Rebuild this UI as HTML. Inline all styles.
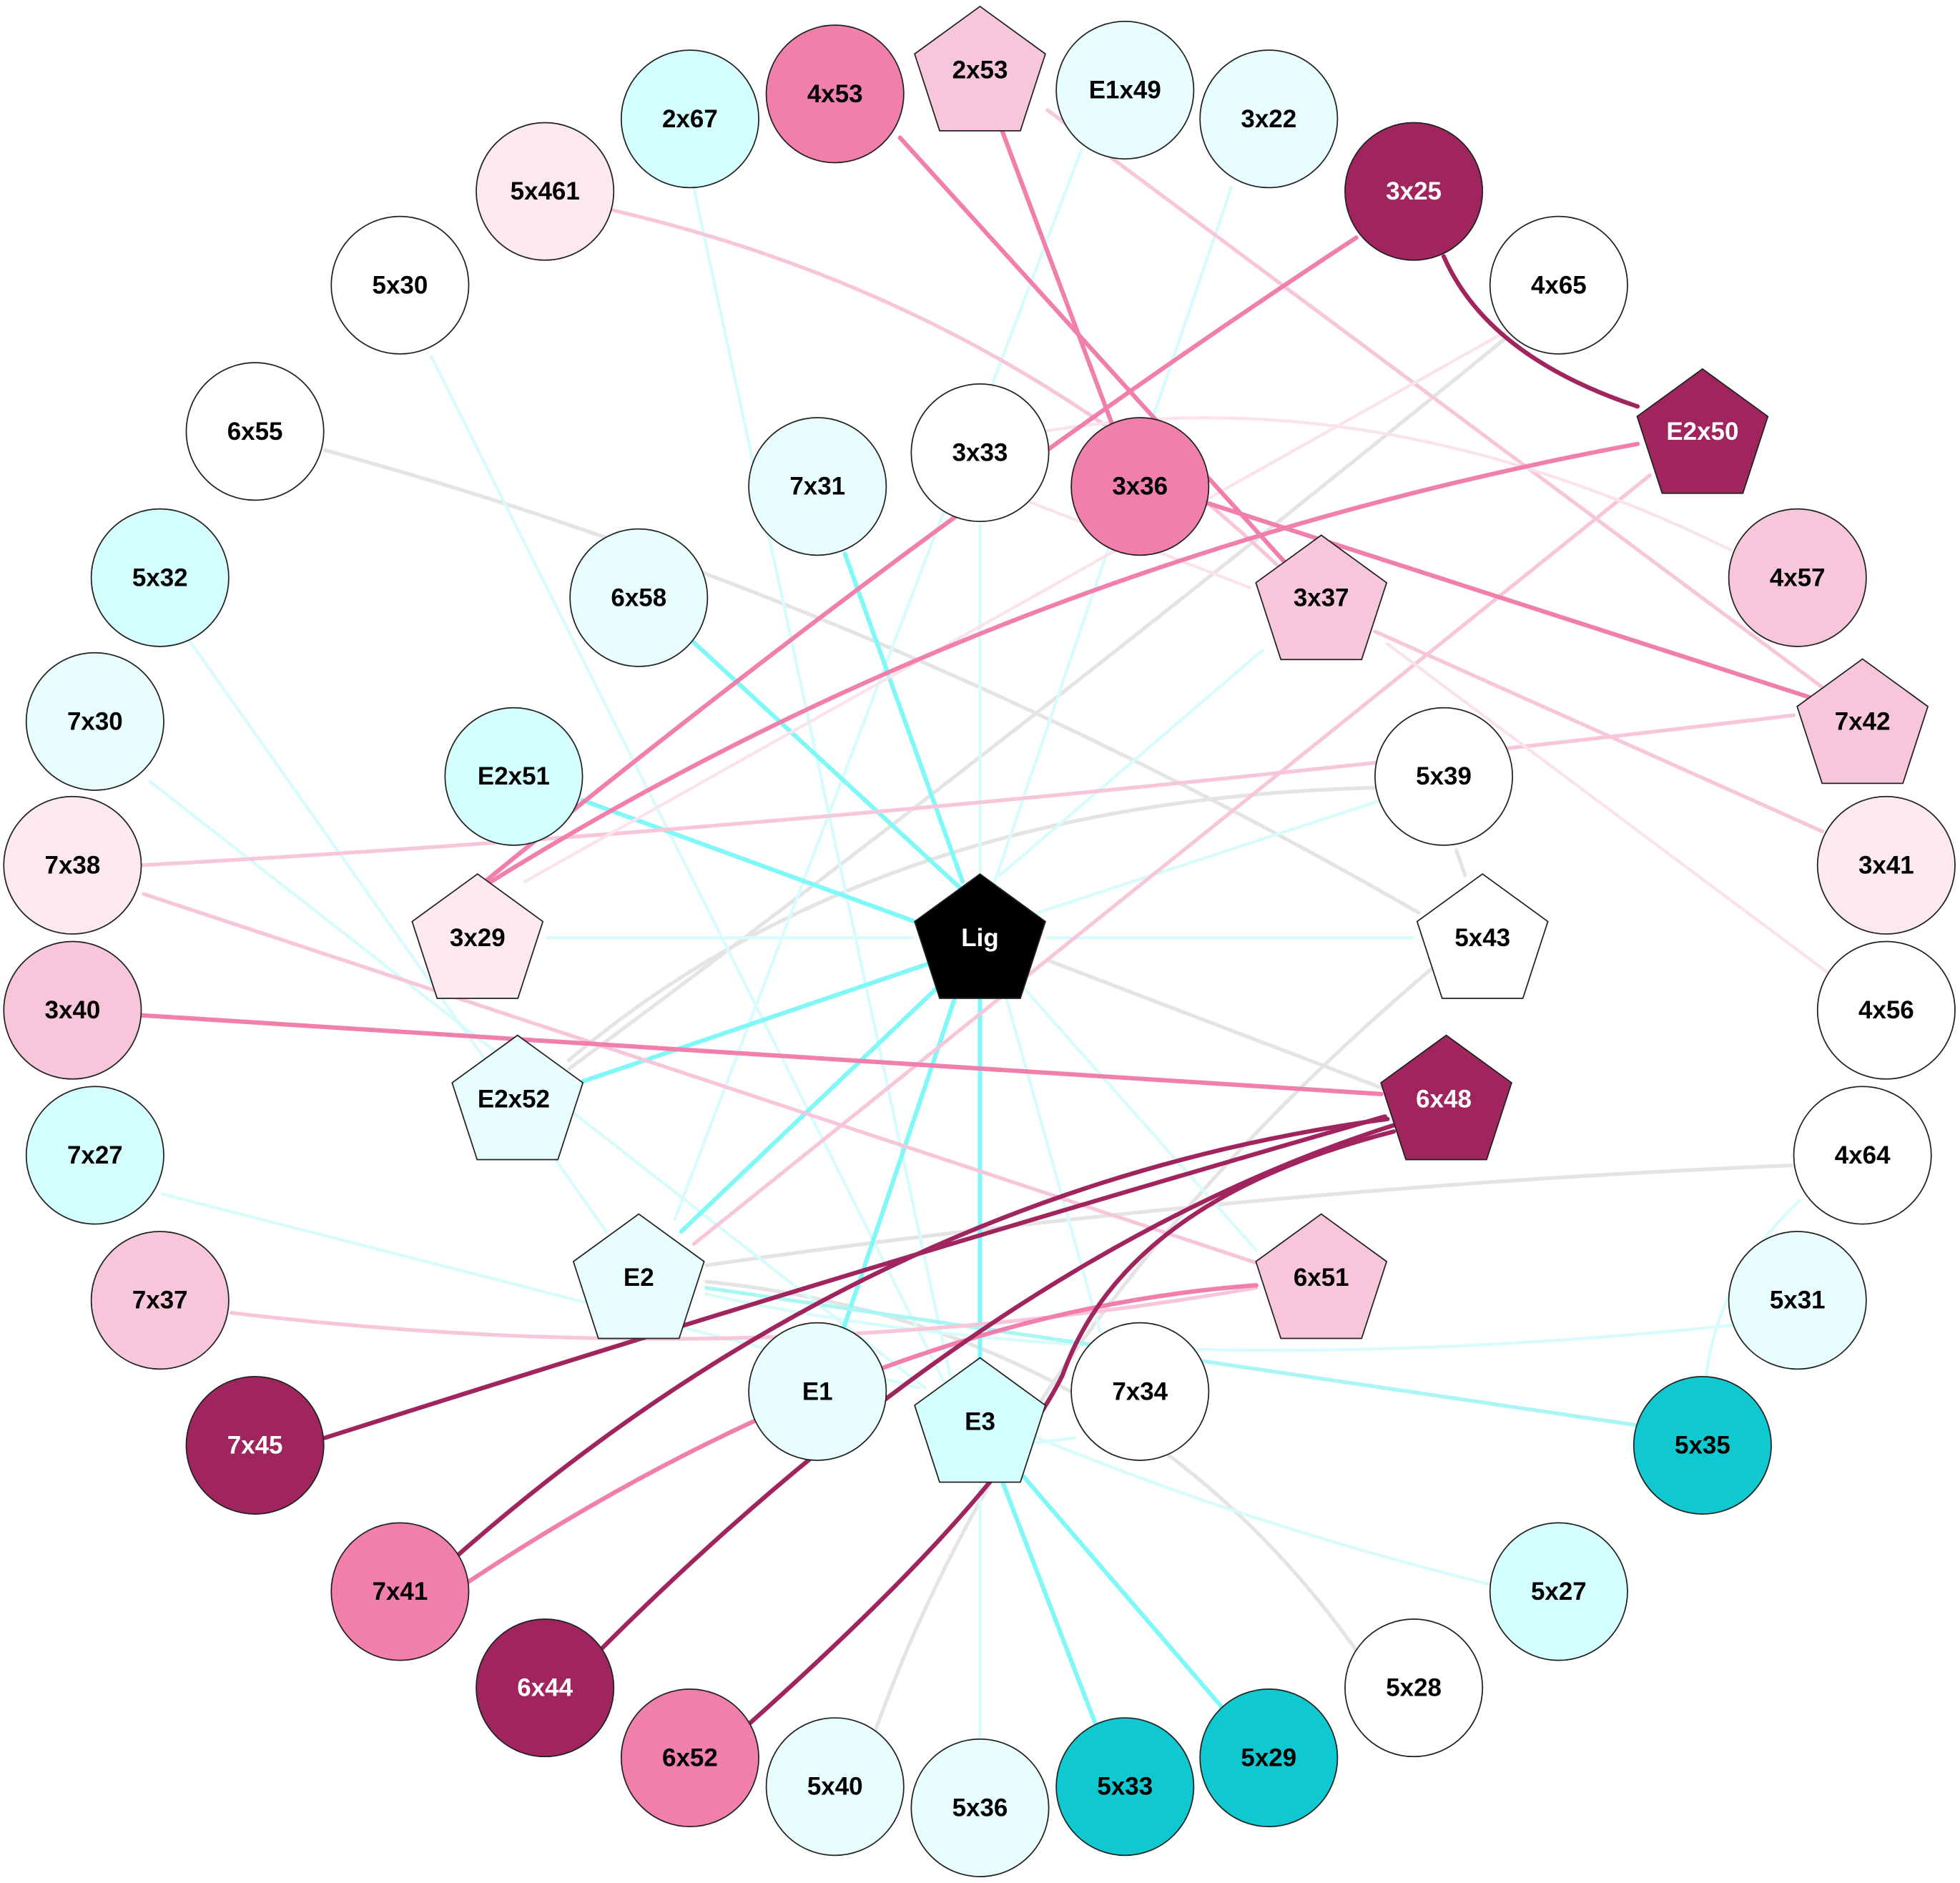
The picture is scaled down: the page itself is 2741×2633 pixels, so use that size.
<!DOCTYPE html>
<html><head><meta charset="utf-8"><style>html,body{margin:0;padding:0;background:#fff}svg{display:block}text{font-family:"Liberation Sans",Arial,sans-serif;font-weight:bold;font-size:20px;text-anchor:middle;dominant-baseline:central;stroke:none}</style></head><body>
<svg width="2741" height="2633" viewBox="0 0 1568 1506" xmlns="http://www.w3.org/2000/svg">
<g fill="none" stroke-linecap="round">
<g stroke="#e4e4e4" stroke-width="3">
<path d="M260,360 Q700,480 1135,730"/>
<line x1="838" y1="768" x2="1105" y2="870"/>
<path d="M455,855 Q800,600 1205,270"/>
<path d="M455,848 Q700,640 1100,630"/>
<path d="M1145,775 Q820,1050 700,1385"/>
<line x1="1165" y1="680" x2="1172" y2="700"/>
<path d="M565,1012 Q1000,950 1435,932"/>
<path d="M565,1025 Q900,1060 1085,1320"/>
</g>
<g stroke="#d8fbfb" stroke-width="2.5">
<line x1="555" y1="150" x2="760" y2="1100"/>
<line x1="345" y1="285" x2="755" y2="1105"/>
<line x1="120" y1="625" x2="740" y2="1110"/>
<line x1="150" y1="510" x2="485" y2="985"/>
<line x1="865" y1="120" x2="540" y2="975"/>
<line x1="985" y1="150" x2="675" y2="1060"/>
<line x1="784" y1="1190" x2="784" y2="1392"/>
<path d="M830,1150 Q1000,1220 1195,1268"/>
<line x1="820" y1="1155" x2="860" y2="1150"/>
<line x1="810" y1="780" x2="1005" y2="1000"/>
<line x1="800" y1="780" x2="880" y2="1065"/>
<line x1="800" y1="700" x2="1010" y2="520"/>
<line x1="784" y1="420" x2="784" y2="700"/>
<line x1="438" y1="750" x2="730" y2="750"/>
<line x1="838" y1="750" x2="1130" y2="750"/>
<line x1="830" y1="730" x2="1105" y2="640"/>
<path d="M565,1035 Q900,1110 1385,1060"/>
<path d="M1440,960 Q1375,1020 1365,1100"/>
<line x1="130" y1="955" x2="735" y2="1110"/>
</g>
<g stroke="#80f8f8" stroke-width="3.5">
<line x1="676" y1="443" x2="770" y2="705"/>
<line x1="551" y1="510" x2="768" y2="710"/>
<line x1="466" y1="640" x2="740" y2="740"/>
<line x1="466" y1="865" x2="745" y2="770"/>
<line x1="545" y1="985" x2="755" y2="785"/>
<line x1="675" y1="1062" x2="765" y2="795"/>
<line x1="784" y1="797" x2="784" y2="1090"/>
<line x1="818" y1="1180" x2="978" y2="1366"/>
<line x1="800" y1="1180" x2="878" y2="1383"/>
</g>
<g stroke="#a8f6f6" stroke-width="3">
<line x1="565" y1="1030" x2="1310" y2="1140"/>
</g>
<g stroke="#f7c6da" stroke-width="3">
<path d="M490,168 Q800,240 1025,455"/>
<line x1="838" y1="88" x2="1465" y2="555"/>
<path d="M113,692 Q700,660 1435,572"/>
<line x1="115" y1="715" x2="1005" y2="1010"/>
<path d="M185,1050 Q600,1100 1005,1030"/>
<line x1="555" y1="995" x2="1320" y2="380"/>
<line x1="1100" y1="505" x2="1458" y2="665"/>
</g>
<g stroke="#fbe3ec" stroke-width="2.5">
<path d="M835,345 Q1100,300 1385,440"/>
<line x1="1110" y1="515" x2="1465" y2="780"/>
<line x1="420" y1="705" x2="1205" y2="265"/>
<line x1="820" y1="400" x2="1000" y2="470"/>
</g>
<g stroke="#f07fab" stroke-width="3.5">
<line x1="720" y1="110" x2="1030" y2="452"/>
<line x1="800" y1="100" x2="890" y2="340"/>
<line x1="965" y1="402" x2="1455" y2="560"/>
<path d="M1085,190 Q750,410 388,705"/>
<path d="M1310,355 Q800,450 385,710"/>
<line x1="113" y1="812" x2="1105" y2="875"/>
<path d="M375,1265 Q700,1050 1005,1028"/>
</g>
<g stroke="#a0245e" stroke-width="3.5">
<path d="M1155,205 Q1190,285 1310,325"/>
<path d="M260,1150 Q700,1010 1108,893"/>
<path d="M365,1245 Q700,950 1110,895"/>
<path d="M480,1320 Q800,1000 1115,900"/>
<path d="M598,1380 Q800,1200 850,1100 Q900,960 1115,905"/>
</g>
</g>
<g stroke="#222" stroke-width="1">
<circle cx="552" cy="95" r="55" fill="#d4ffff"/><text x="552" y="95">2x67</text>
<circle cx="668" cy="75" r="55" fill="#f07fab"/><text x="668" y="75">4x53</text>
<circle cx="900" cy="72" r="55" fill="#e8fdfd"/><text x="900" y="72">E1x49</text>
<circle cx="1015" cy="95" r="55" fill="#e8fdfd"/><text x="1015" y="95">3x22</text>
<circle cx="1131" cy="153" r="55" fill="#a0245e"/><text x="1131" y="153" fill="#fff">3x25</text>
<circle cx="436" cy="153" r="55" fill="#fbe8f0"/><text x="436" y="153">5x461</text>
<circle cx="320" cy="228" r="55" fill="#fff"/><text x="320" y="228">5x30</text>
<circle cx="1247" cy="228" r="55" fill="#fff"/><text x="1247" y="228">4x65</text>
<circle cx="204" cy="345" r="55" fill="#fff"/><text x="204" y="345">6x55</text>
<circle cx="784" cy="362" r="55" fill="#fff"/><text x="784" y="362">3x33</text>
<circle cx="654" cy="389" r="55" fill="#e8fdfd"/><text x="654" y="389">7x31</text>
<circle cx="912" cy="389" r="55" fill="#f07fab"/><text x="912" y="389">3x36</text>
<circle cx="128" cy="462" r="55" fill="#d4ffff"/><text x="128" y="462">5x32</text>
<circle cx="511" cy="478" r="55" fill="#e8fdfd"/><text x="511" y="478">6x58</text>
<circle cx="1438" cy="462" r="55" fill="#f7c6da"/><text x="1438" y="462">4x57</text>
<circle cx="76" cy="577" r="55" fill="#e8fdfd"/><text x="76" y="577">7x30</text>
<circle cx="411" cy="621" r="55" fill="#d4ffff"/><text x="411" y="621">E2x51</text>
<circle cx="1155" cy="621" r="55" fill="#fff"/><text x="1155" y="621">5x39</text>
<circle cx="58" cy="692" r="55" fill="#fbe8f0"/><text x="58" y="692">7x38</text>
<circle cx="1509" cy="692" r="55" fill="#fbe8f0"/><text x="1509" y="692">3x41</text>
<circle cx="58" cy="808" r="55" fill="#f7c6da"/><text x="58" y="808">3x40</text>
<circle cx="1509" cy="808" r="55" fill="#fff"/><text x="1509" y="808">4x56</text>
<circle cx="76" cy="924" r="55" fill="#d4ffff"/><text x="76" y="924">7x27</text>
<circle cx="1490" cy="924" r="55" fill="#fff"/><text x="1490" y="924">4x64</text>
<circle cx="128" cy="1040" r="55" fill="#f7c6da"/><text x="128" y="1040">7x37</text>
<circle cx="1438" cy="1040" r="55" fill="#e8fdfd"/><text x="1438" y="1040">5x31</text>
<circle cx="654" cy="1113" r="55" fill="#e8fdfd"/><text x="654" y="1113">E1</text>
<circle cx="912" cy="1113" r="55" fill="#fff"/><text x="912" y="1113">7x34</text>
<circle cx="204" cy="1156" r="55" fill="#a0245e"/><text x="204" y="1156" fill="#fff">7x45</text>
<circle cx="1362" cy="1156" r="55" fill="#10c8d0"/><text x="1362" y="1156">5x35</text>
<circle cx="320" cy="1273" r="55" fill="#f07fab"/><text x="320" y="1273">7x41</text>
<circle cx="1247" cy="1273" r="55" fill="#d4ffff"/><text x="1247" y="1273">5x27</text>
<circle cx="436" cy="1350" r="55" fill="#a0245e"/><text x="436" y="1350" fill="#fff">6x44</text>
<circle cx="1131" cy="1350" r="55" fill="#fff"/><text x="1131" y="1350">5x28</text>
<circle cx="552" cy="1406" r="55" fill="#f07fab"/><text x="552" y="1406">6x52</text>
<circle cx="668" cy="1429" r="55" fill="#e8fdfd"/><text x="668" y="1429">5x40</text>
<circle cx="784" cy="1446" r="55" fill="#e8fdfd"/><text x="784" y="1446">5x36</text>
<circle cx="900" cy="1429" r="55" fill="#10c8d0"/><text x="900" y="1429">5x33</text>
<circle cx="1015" cy="1406" r="55" fill="#10c8d0"/><text x="1015" y="1406">5x29</text>
</g>
<g stroke="#222" stroke-width="1">
<g transform="translate(784,60)"><polygon points="0,-55 52.3,-17 32.3,44.5 -32.3,44.5 -52.3,-17" fill="#f7c6da"/><text x="0" y="-4">2x53</text></g>
<g transform="translate(1362,350)"><polygon points="0,-55 52.3,-17 32.3,44.5 -32.3,44.5 -52.3,-17" fill="#a0245e"/><text x="0" y="-5" fill="#fff">E2x50</text></g>
<g transform="translate(1057,483)"><polygon points="0,-55 52.3,-17 32.3,44.5 -32.3,44.5 -52.3,-17" fill="#f7c6da"/><text x="0" y="-5">3x37</text></g>
<g transform="translate(1490,582)"><polygon points="0,-55 52.3,-17 32.3,44.5 -32.3,44.5 -52.3,-17" fill="#f7c6da"/><text x="0" y="-5">7x42</text></g>
<g transform="translate(382,754)"><polygon points="0,-55 52.3,-17 32.3,44.5 -32.3,44.5 -52.3,-17" fill="#fbe8f0"/><text x="0" y="-4">3x29</text></g>
<g transform="translate(784,754)"><polygon points="0,-55 52.3,-17 32.3,44.5 -32.3,44.5 -52.3,-17" fill="#000"/><text x="0" y="-4" fill="#fff">Lig</text></g>
<g transform="translate(1186,754)"><polygon points="0,-55 52.3,-17 32.3,44.5 -32.3,44.5 -52.3,-17" fill="#fff"/><text x="0" y="-4">5x43</text></g>
<g transform="translate(414,883)"><polygon points="0,-55 52.3,-17 32.3,44.5 -32.3,44.5 -52.3,-17" fill="#e8fdfd"/><text x="-3" y="-4">E2x52</text></g>
<g transform="translate(1157,883)"><polygon points="0,-55 52.3,-17 32.3,44.5 -32.3,44.5 -52.3,-17" fill="#a0245e"/><text x="-2" y="-4" fill="#fff">6x48</text></g>
<g transform="translate(511,1026)"><polygon points="0,-55 52.3,-17 32.3,44.5 -32.3,44.5 -52.3,-17" fill="#e8fdfd"/><text x="0" y="-4">E2</text></g>
<g transform="translate(1057,1026)"><polygon points="0,-55 52.3,-17 32.3,44.5 -32.3,44.5 -52.3,-17" fill="#f7c6da"/><text x="0" y="-4">6x51</text></g>
<g transform="translate(784,1141)"><polygon points="0,-55 52.3,-17 32.3,44.5 -32.3,44.5 -52.3,-17" fill="#d4ffff"/><text x="0" y="-4">E3</text></g>
</g>
</svg>
</body></html>
